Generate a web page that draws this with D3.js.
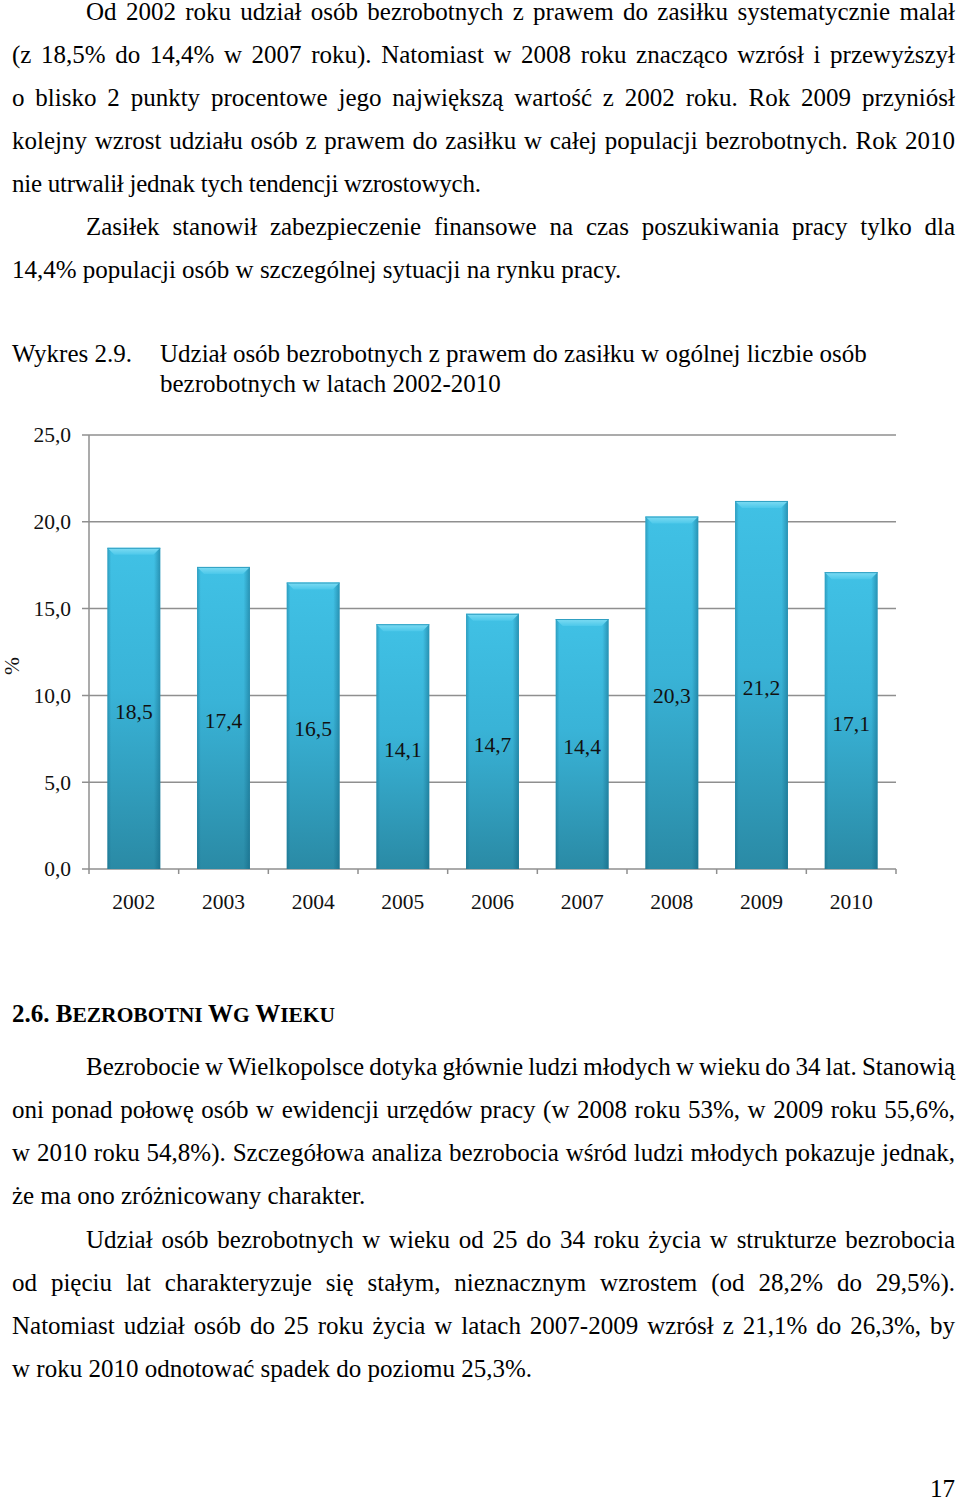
<!DOCTYPE html>
<html>
<head>
<meta charset="utf-8">
<script src="https://cdn.jsdelivr.net/npm/d3@7"></script>
<style>
  html, body { margin: 0; padding: 0; background: #fff; }
  body { width: 960px; height: 1512px; position: relative; overflow: hidden; font-family: "Liberation Serif", "Times New Roman", serif; color: #000; }
  .ln { position: absolute; font-size: 25px; line-height: 25px; white-space: nowrap; }
  .sc { font-size: 21.5px; }
  svg { position: absolute; left: 0; top: 0; }
</style>
</head>
<body>
<script>
// ---- chart data ----
const years = ["2002", "2003", "2004", "2005", "2006", "2007", "2008", "2009", "2010"];
const shares = [18.5, 17.4, 16.5, 14.1, 14.7, 14.4, 20.3, 21.2, 17.1];
const yTicks = [0, 5, 10, 15, 20, 25];
const yTickLabels = ["0,0", "5,0", "10,0", "15,0", "20,0", "25,0"];
const valueLabels = ["18,5", "17,4", "16,5", "14,1", "14,7", "14,4", "20,3", "21,2", "17,1"];
const yAxisTitle = "%";

// ---- page text ----
const textLines = [
  { t: "Od 2002 roku udział osób bezrobotnych z prawem do zasiłku systematycznie malał", x: 86, b: 20, j: true },
  { t: "(z 18,5% do 14,4% w 2007 roku). Natomiast w 2008 roku znacząco wzrósł i przewyższył", x: 12, b: 63, j: true },
  { t: "o blisko 2 punkty procentowe jego największą wartość z 2002 roku. Rok 2009 przyniósł", x: 12, b: 106, j: true },
  { t: "kolejny wzrost udziału osób z prawem do zasiłku w całej populacji bezrobotnych. Rok 2010", x: 12, b: 149, j: true },
  { t: "nie utrwalił jednak tych tendencji wzrostowych.", x: 12, b: 192, j: false, ls: -0.25 },
  { t: "Zasiłek stanowił zabezpieczenie finansowe na czas poszukiwania pracy tylko dla", x: 86, b: 235, j: true },
  { t: "14,4% populacji osób w szczególnej sytuacji na rynku pracy.", x: 12, b: 278, j: false },
  { t: "Wykres 2.9.", x: 12, b: 362, j: false },
  { t: "Udział osób bezrobotnych z prawem do zasiłku w ogólnej liczbie osób", x: 160, b: 362, j: false },
  { t: "bezrobotnych w latach 2002-2010", x: 160, b: 392, j: false },
  { t: "Bezrobocie w Wielkopolsce dotyka głównie ludzi młodych w wieku do 34 lat. Stanowią", x: 86, b: 1075, j: true },
  { t: "oni ponad połowę osób w ewidencji urzędów pracy (w 2008 roku 53%, w 2009 roku 55,6%,", x: 12, b: 1118, j: true },
  { t: "w 2010 roku 54,8%). Szczegółowa analiza bezrobocia wśród ludzi młodych pokazuje jednak,", x: 12, b: 1161, j: true },
  { t: "że ma ono zróżnicowany charakter.", x: 12, b: 1204, j: false },
  { t: "Udział osób bezrobotnych w wieku od 25 do 34 roku życia w strukturze bezrobocia", x: 86, b: 1248, j: true },
  { t: "od pięciu lat charakteryzuje się stałym, nieznacznym wzrostem (od 28,2% do 29,5%).", x: 12, b: 1291, j: true },
  { t: "Natomiast udział osób do 25 roku życia w latach 2007-2009 wzrósł z 21,1% do 26,3%, by", x: 12, b: 1334, j: true },
  { t: "w roku 2010 odnotować spadek do poziomu 25,3%.", x: 12, b: 1377, j: false }
];
const RIGHT = 955;
const TOPOFF = 21;

const body = d3.select("body");
textLines.forEach(l => {
  const d = body.append("div")
    .attr("class", "ln")
    .style("left", l.x + "px")
    .style("top", (l.b - TOPOFF) + "px")
    .text(l.t);
  if (l.ls) d.style("letter-spacing", l.ls + "px");
  if (l.j) {
    // justify: spread the remaining width over the spaces of the line
    const natural = d.node().getBoundingClientRect().width;
    const spaces = (l.t.match(/ /g) || []).length;
    const extra = (RIGHT - l.x - natural) / spaces;
    d.style("word-spacing", extra + "px");
  }
});

// heading (small caps drawn with two sizes)
const h = body.append("div").attr("class", "ln")
  .style("left", "12px").style("top", (1022 - TOPOFF) + "px")
  .style("font-weight", "bold");
[["2.6. B", false], ["EZROBOTNI ", true], ["W", false], ["G ", true], ["W", false], ["IEKU", true]]
  .forEach(([t, small]) => h.append("span").attr("class", small ? "sc" : null).text(t));

// page number
body.append("div").attr("class", "ln")
  .style("left", "900px").style("width", "55px").style("text-align", "right")
  .style("top", (1497 - TOPOFF) + "px")
  .text("17");

// ---- chart ----
const svg = body.append("svg").attr("width", 960).attr("height", 1512)
  .style("font-family", "'Liberation Serif', 'Times New Roman', serif");

const x0 = 89, x1 = 896, yBottom = 869, yTop = 435;
const x = d3.scaleBand().domain(years).range([x0, x1]).paddingInner(0.41).paddingOuter(0.205);
const y = d3.scaleLinear().domain([0, 25]).range([yBottom, yTop]);

const defs = svg.append("defs");
const g1 = defs.append("linearGradient").attr("id", "bodyGrad").attr("x1", 0).attr("y1", 0).attr("x2", 0).attr("y2", 1);
g1.append("stop").attr("offset", "0%").attr("stop-color", "#40c1e5");
g1.append("stop").attr("offset", "45%").attr("stop-color", "#39b3d7");
g1.append("stop").attr("offset", "100%").attr("stop-color", "#2a8aa5");
const g2 = defs.append("linearGradient").attr("id", "edgeGrad").attr("x1", 0).attr("y1", 0).attr("x2", 1).attr("y2", 0);
g2.append("stop").attr("offset", "0%").attr("stop-color", "#0b5a78").attr("stop-opacity", 0.35);
g2.append("stop").attr("offset", "7%").attr("stop-color", "#0b5a78").attr("stop-opacity", 0.0);
g2.append("stop").attr("offset", "88%").attr("stop-color", "#0b5a78").attr("stop-opacity", 0.0);
g2.append("stop").attr("offset", "100%").attr("stop-color", "#0b5a78").attr("stop-opacity", 0.45);
const g3 = defs.append("linearGradient").attr("id", "topGrad").attr("x1", 0).attr("y1", 0).attr("x2", 0).attr("y2", 1);
g3.append("stop").attr("offset", "0%").attr("stop-color", "#7fdcf3");
g3.append("stop").attr("offset", "100%").attr("stop-color", "#4cc8ea");

// gridlines
svg.append("g").selectAll("line").data(yTicks).join("line")
  .attr("x1", x0 - 7).attr("x2", x1)
  .attr("y1", d => y(d)).attr("y2", d => y(d))
  .attr("stroke", "#8f8f8f").attr("stroke-width", 1.5);

// y axis line
svg.append("line").attr("x1", x0).attr("x2", x0).attr("y1", y(25)).attr("y2", y(0))
  .attr("stroke", "#8f8f8f").attr("stroke-width", 1.5);

// x ticks at band boundaries
const bounds = years.map(d => x(d) - x.step() * x.paddingInner() / 2);
bounds[0] = x0;
bounds.push(x1);
svg.append("g").selectAll("line").data(bounds).join("line")
  .attr("x1", d => d).attr("x2", d => d)
  .attr("y1", y(0)).attr("y2", y(0) + 5)
  .attr("stroke", "#8f8f8f").attr("stroke-width", 1.5);

// y tick labels
svg.append("g").selectAll("text").data(yTicks).join("text")
  .attr("x", 71).attr("y", d => y(d))
  .attr("dy", "0.34em")
  .attr("text-anchor", "end")
  .attr("font-size", "21.5px").attr("fill", "#111")
  .text((d, i) => yTickLabels[i]);

// x tick labels
svg.append("g").selectAll("text").data(years).join("text")
  .attr("x", d => x(d) + x.bandwidth() / 2).attr("y", 909)
  .attr("text-anchor", "middle")
  .attr("font-size", "21.5px").attr("fill", "#111")
  .text(d => d);

// y axis title
svg.append("text")
  .attr("transform", "translate(19,666) rotate(-90)")
  .attr("text-anchor", "middle")
  .attr("font-size", "21.5px").attr("fill", "#111")
  .text(yAxisTitle);

// bars
const bars = svg.append("g").selectAll("g").data(years).join("g");
bars.append("rect")
  .attr("x", d => x(d)).attr("width", x.bandwidth())
  .attr("y", (d, i) => y(shares[i])).attr("height", (d, i) => y(0) - y(shares[i]))
  .attr("fill", "url(#bodyGrad)");
bars.append("rect")
  .attr("x", d => x(d)).attr("width", x.bandwidth())
  .attr("y", (d, i) => y(shares[i])).attr("height", (d, i) => y(0) - y(shares[i]))
  .attr("fill", "url(#edgeGrad)");
bars.append("polygon")
  .attr("points", (d, i) => {
    const bx = x(d), bw = x.bandwidth(), ty = y(shares[i]), k = 7;
    return [[bx, ty], [bx + bw, ty], [bx + bw - k, ty + k], [bx + k, ty + k]].map(p => p.join(",")).join(" ");
  })
  .attr("fill", "url(#topGrad)");
bars.append("line")
  .attr("x1", d => x(d)).attr("x2", d => x(d) + x.bandwidth())
  .attr("y1", (d, i) => y(shares[i]) + 0.5).attr("y2", (d, i) => y(shares[i]) + 0.5)
  .attr("stroke", "#2f9fc2").attr("stroke-width", 1);

// value labels (centered in bar)
svg.append("g").selectAll("text").data(years).join("text")
  .attr("x", d => x(d) + x.bandwidth() / 2)
  .attr("y", (d, i) => y(shares[i] / 2) + 3)
  .attr("dy", "0.34em")
  .attr("text-anchor", "middle")
  .attr("font-size", "21.5px").attr("fill", "#111")
  .text((d, i) => valueLabels[i]);
</script>
</body>
</html>
